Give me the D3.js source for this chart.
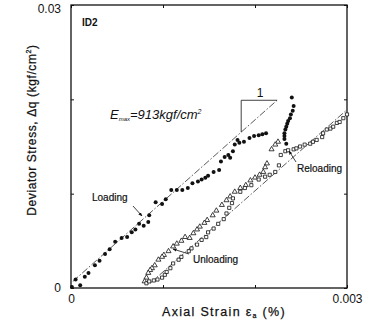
<!DOCTYPE html>
<html>
<head>
<meta charset="utf-8">
<script src="https://cdn.jsdelivr.net/npm/d3@7"></script>
<style>
  body { margin: 0; background: #fff; }
  svg { font-family: "Liberation Sans", Arial, sans-serif; }
</style>
</head>
<body>
<div id="chart"></div>
<script>
// strain (%) , deviator stress (kgf/cm2)
const loading = [
  [0.00001,0.0001],[0.00005,0.0009],[0.00010,0.0003],[0.00015,0.0012],[0.00019,0.0016],
  [0.00026,0.0024],[0.00031,0.0029],[0.00037,0.0036],[0.00042,0.0041],[0.00048,0.0049],
  [0.00055,0.0053],[0.00061,0.0054],[0.00066,0.0059],[0.00070,0.0062],[0.00074,0.0068],
  [0.00079,0.0066],[0.00084,0.0070],[0.00085,0.0077],[0.00092,0.0091],[0.00099,0.0089],
  [0.00103,0.0094],[0.00109,0.0104],[0.00115,0.0104],[0.00121,0.0104],[0.00127,0.0106],
  [0.00132,0.0111],[0.00138,0.0113],[0.00142,0.0115],[0.00146,0.0117],[0.00149,0.0119],
  [0.00155,0.0123],[0.00161,0.0125],[0.00163,0.0134],[0.00167,0.0139],[0.00171,0.0141],
  [0.00173,0.0138],[0.00176,0.0145],[0.00178,0.0152],[0.00181,0.0157],[0.00183,0.0154],
  [0.00188,0.0155],[0.00194,0.0159],[0.00199,0.0161],[0.00204,0.0162],[0.00208,0.0163],
  [0.00212,0.0164],
  [0.00234,0.0153],[0.00232,0.0158],[0.00232,0.0161],[0.00232,0.0164],[0.00233,0.0168],
  [0.00234,0.0171],[0.00235,0.0174],[0.00236,0.0177],[0.00238,0.0180],[0.00239,0.0184],
  [0.00241,0.0188],[0.00242,0.0193],[0.00240,0.0202]
]

const unloading = [
  [0.00225,0.0155],[0.00222,0.0152],[0.00218,0.0147],[0.00213,0.0132],[0.00211,0.0128],
  [0.00209,0.0123],[0.00205,0.0120],[0.00200,0.0117],[0.00195,0.0114],[0.00190,0.0109],
  [0.00184,0.0106],[0.00178,0.0102],[0.00173,0.0097],[0.00169,0.0093],[0.00164,0.0088],
  [0.00158,0.0082],[0.00154,0.0077],[0.00148,0.0072],[0.00145,0.0069],[0.00140,0.0065],
  [0.00137,0.0062],[0.00133,0.0058],[0.00129,0.0053],[0.00124,0.0054],[0.00120,0.0050],
  [0.00115,0.0047],[0.00111,0.0044],[0.00106,0.0039],[0.00101,0.0035],[0.00099,0.0033],
  [0.00095,0.0030],[0.00091,0.0024],[0.00088,0.0021],[0.00086,0.0019],[0.00084,0.0016],
  [0.00082,0.0011],[0.00080,0.0007]
]

const reloading = [
  [0.00082,0.0005],[0.00085,0.0007],[0.00090,0.0008],[0.00094,0.0009],[0.00099,0.0011],
  [0.00102,0.0014],[0.00104,0.0017],[0.00108,0.0021],[0.00111,0.0026],[0.00117,0.0030],
  [0.00120,0.0033],[0.00128,0.0039],[0.00131,0.0042],[0.00137,0.0046],[0.00142,0.0051],
  [0.00147,0.0054],[0.00149,0.0059],[0.00155,0.0063],[0.00160,0.0068],[0.00166,0.0073],
  [0.00169,0.0079],[0.00172,0.0085],[0.00175,0.0090],[0.00176,0.0095],[0.00184,0.0102],
  [0.00189,0.0106],[0.00196,0.0109],[0.00204,0.0115],[0.00211,0.0118],[0.00216,0.0120],
  [0.00222,0.0123],[0.00226,0.0130],[0.00228,0.0141],[0.00233,0.0145],[0.00236,0.0146],
  [0.00242,0.0147],[0.00245,0.0148],[0.00249,0.0150],[0.00254,0.0152],[0.00260,0.0153],
  [0.00263,0.0155],[0.00267,0.0157],[0.00273,0.0160],[0.00274,0.0164],[0.00278,0.0168],
  [0.00282,0.0169],[0.00285,0.0171],[0.00289,0.0175],[0.00292,0.0176],[0.00296,0.0180],
  [0.00300,0.0184]
]

// reference lines (dash-dot)
const emaxLine = [[0.00002,0.0007],[0.00224,0.0199]]
const reloadLine = [[0.00086,0.0005],[0.00300,0.0189]]

const xTicks = [0, 0.001, 0.002, 0.003]
const yTicks = [0, 0.01, 0.02, 0.03]
const xTickLabels = {0: "0", 0.003: "0.003"}
const yTickLabels = {0: "0", 0.03: "0.03"}

const width = 367, height = 320,
    margin = { top: 5, right: 20, bottom: 32, left: 71 },
    ink = "#111"

const x = d3.scaleLinear().domain([0, 0.003]).range([margin.left, width - margin.right])
const y = d3.scaleLinear().domain([0, 0.03]).range([height - margin.bottom, margin.top])

const svg = d3.select("#chart").append("svg")
    .attr("width", width)
    .attr("height", height)

const defs = svg.append("defs")
defs.append("marker")
    .attr("id", "arr")
    .attr("viewBox", "0 0 10 10")
    .attr("refX", 9).attr("refY", 5)
    .attr("markerWidth", 5).attr("markerHeight", 5)
    .attr("orient", "auto")
  .append("path")
    .attr("d", "M0,1L10,5L0,9z")
    .attr("fill", ink)

// axes: inward ticks on all sides
const fmtX = d => xTickLabels[d] || ""
const fmtY = d => yTickLabels[d] || ""

svg.append("g")
    .attr("transform", `translate(0,${y(0)})`)
    .call(d3.axisBottom(x).tickValues(xTicks).tickSize(-3).tickPadding(6).tickFormat(fmtX))
    .call(g => g.select(".domain").remove())
svg.append("g")
    .attr("transform", `translate(0,${y(0.03)})`)
    .call(d3.axisTop(x).tickValues(xTicks).tickSize(-3).tickFormat(""))
    .call(g => g.select(".domain").remove())
svg.append("g")
    .attr("class", "y-left")
    .attr("transform", `translate(${x(0)},0)`)
    .call(d3.axisLeft(y).tickValues(yTicks).tickSize(-3).tickPadding(10).tickFormat(fmtY))
    .call(g => g.select(".domain").remove())
    .call(g => g.selectAll(".tick text").filter(d => d === 0.03).attr("dy", "0.62em"))
svg.append("g")
    .attr("transform", `translate(${x(0.003)},0)`)
    .call(d3.axisRight(y).tickValues(yTicks).tickSize(-3).tickFormat(""))
    .call(g => g.select(".domain").remove())

svg.selectAll(".tick line").attr("stroke", ink).attr("stroke-width", 1)
svg.selectAll(".tick text")
    .attr("fill", ink)
    .style("font-size", "12px")
    .style("font-family", "'Liberation Sans', Arial, sans-serif")

// frame
svg.append("rect")
    .attr("x", x(0)).attr("y", y(0.03))
    .attr("width", x(0.003) - x(0)).attr("height", y(0) - y(0.03))
    .attr("fill", "none")
    .attr("stroke", ink)
    .attr("stroke-width", 1.3)

// dash-dot lines
const line = d3.line().x(d => x(d[0])).y(d => y(d[1]))
;[emaxLine, reloadLine].forEach(l => {
    svg.append("path")
        .attr("d", line(l))
        .attr("fill", "none")
        .attr("stroke", ink)
        .attr("stroke-width", 0.7)
        .attr("stroke-dasharray", "7,2,1.5,2")
})

// slope triangle on the Emax line
const triX = 0.00185
const slope = (emaxLine[1][1] - emaxLine[0][1]) / (emaxLine[1][0] - emaxLine[0][0])
const triYlow = emaxLine[0][1] + (triX - emaxLine[0][0]) * slope
svg.append("path")
    .attr("d", line([[emaxLine[1][0], emaxLine[1][1]], [triX, emaxLine[1][1]], [triX, triYlow]]))
    .attr("fill", "none")
    .attr("stroke", ink)
    .attr("stroke-width", 0.8)
svg.append("text")
    .attr("x", x((triX + emaxLine[1][0]) / 2) + 1)
    .attr("y", y(emaxLine[1][1]) - 3)
    .attr("text-anchor", "middle")
    .style("font-size", "12px")
    .attr("fill", ink)
    .text("1")

// data marks
svg.append("g").selectAll("circle")
    .data(loading)
    .join("circle")
    .attr("cx", d => x(d[0]))
    .attr("cy", d => y(d[1]))
    .attr("r", 2)
    .attr("fill", ink)

const tri = d3.symbol().type(d3.symbolTriangle).size(11)
svg.append("g").selectAll("path")
    .data(unloading)
    .join("path")
    .attr("transform", d => `translate(${x(d[0])},${y(d[1])})`)
    .attr("d", tri)
    .attr("fill", "#fff")
    .attr("stroke", ink)
    .attr("stroke-width", 0.8)

const sq = d3.symbol().type(d3.symbolSquare).size(10)
svg.append("g").selectAll("path")
    .data(reloading)
    .join("path")
    .attr("transform", d => `translate(${x(d[0])},${y(d[1])})`)
    .attr("d", sq)
    .attr("fill", "#fff")
    .attr("stroke", ink)
    .attr("stroke-width", 0.8)

// annotations
const ann = svg.append("g").attr("fill", ink)

ann.append("text")
    .attr("x", 82).attr("y", 26)
    .style("font-size", "10px").style("font-weight", "bold")
    .text("ID2")

const emax = ann.append("text")
    .attr("x", 110).attr("y", 119)
    .style("font-size", "13px").style("font-style", "italic")
emax.append("tspan").text("E")
emax.append("tspan").attr("dy", 2).style("font-size", "6px").text("max")
emax.append("tspan").attr("dy", -2).text("=913kgf/cm")
emax.append("tspan").attr("dy", -5).style("font-size", "7px").text("2")

const labels = [
    { t: "Loading", x: 92, y: 201, from: [133, 206], to: [142, 216] },
    { t: "Unloading", x: 193, y: 263, from: [189, 254], to: [173, 249] },
    { t: "Reloading", x: 297, y: 172, from: [296, 162], to: [289, 151] }
]
labels.forEach(l => {
    ann.append("text")
        .attr("x", l.x).attr("y", l.y)
        .style("font-size", "10px")
        .attr("stroke", ink).attr("stroke-width", 0.2)
        .text(l.t)
    ann.append("line")
        .attr("x1", l.from[0]).attr("y1", l.from[1])
        .attr("x2", l.to[0]).attr("y2", l.to[1])
        .attr("stroke", ink)
        .attr("stroke-width", 0.8)
        .attr("marker-end", "url(#arr)")
})

// axis titles
const xt = ann.append("text")
    .attr("x", 224).attr("y", 316)
    .attr("text-anchor", "middle")
    .style("font-size", "12.5px")
    .style("letter-spacing", "1.3px")
    .attr("stroke", ink).attr("stroke-width", 0.25)
xt.append("tspan").text("Axial Strain \u03b5")
xt.append("tspan").attr("dy", 2).style("font-size", "7px").text("a")
xt.append("tspan").attr("dy", -2).text(" (%)")

const yt = ann.append("text")
    .attr("transform", "translate(36,130) rotate(-90)")
    .attr("text-anchor", "middle")
    .style("font-size", "12px")
    .style("letter-spacing", "0.6px")
    .attr("stroke", ink).attr("stroke-width", 0.25)
yt.append("tspan").text("Deviator Stress, \u0394q (kgf/cm")
yt.append("tspan").attr("dy", -5).style("font-size", "7px").text("2")
yt.append("tspan").attr("dy", 5).text(")")
</script>
</body>
</html>
